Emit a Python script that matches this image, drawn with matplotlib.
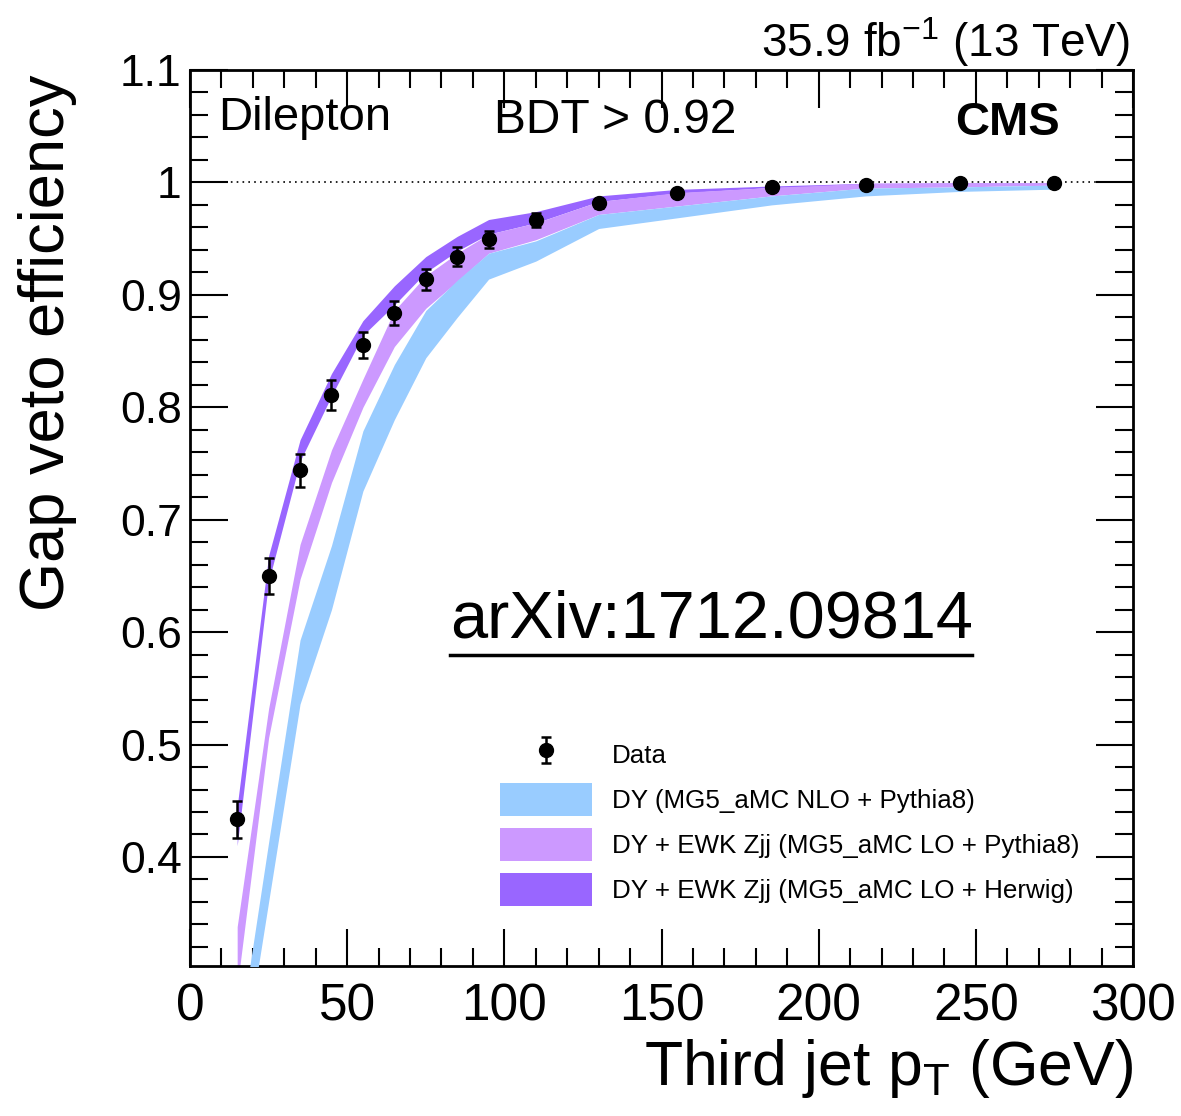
import numpy as np
import matplotlib
matplotlib.use("Agg")
import matplotlib.pyplot as plt
from matplotlib.patches import Patch
from matplotlib.ticker import MultipleLocator, FuncFormatter

plt.rcParams['font.family'] = ['Liberation Sans', 'DejaVu Sans']
plt.rcParams['mathtext.fontset'] = 'custom'
plt.rcParams['mathtext.rm'] = 'Liberation Sans'

# bin centres (GeV)
pt = [15, 25, 35, 45, 55, 65, 75, 85, 95, 110, 130, 155, 185, 215, 245, 275]

# data
data_eff = [0.4334, 0.650, 0.744, 0.8106, 0.8555, 0.8836, 0.9139, 0.9338,
            0.9495, 0.9666, 0.9813, 0.9902, 0.9958, 0.9973, 0.9997, 0.9997]
data_err = [0.0166, 0.016, 0.0146, 0.0134, 0.0117, 0.0105, 0.0095, 0.0085,
            0.0076, 0.0064, 0.004, 0.003, 0.002, 0.002, 0.0015, 0.0015]

# DY NLO + Pythia8 band
nlo_lo = [0.184, 0.360, 0.536, 0.620, 0.7255, 0.789, 0.844, 0.880,
          0.914, 0.930, 0.959, 0.9685, 0.980, 0.988, 0.992, 0.994]
nlo_hi = [0.229, 0.413, 0.593, 0.677, 0.779, 0.838, 0.886, 0.913,
          0.937, 0.948, 0.9715, 0.979, 0.988, 0.995, 0.996, 0.9976]

# DY + EWK Zjj LO + Pythia8 band
lo_py_lo = [0.284, 0.506, 0.647, 0.733, 0.800, 0.854, 0.888, 0.912,
            0.937, 0.949, 0.9715, 0.979, 0.988, 0.995, 0.996, 0.9976]
lo_py_hi = [0.338, 0.532, 0.678, 0.762, 0.825, 0.886, 0.917, 0.937,
            0.954, 0.964, 0.983, 0.991, 0.9955, 0.9993, 0.9997, 0.9997]

# DY + EWK Zjj LO + Herwig band
lo_hw_lo = [0.410, 0.645, 0.752, 0.810, 0.864, 0.891, 0.920, 0.939,
            0.954, 0.964, 0.983, 0.9905, 0.9955, 0.997, 0.998, 0.998]
lo_hw_hi = [0.445, 0.668, 0.771, 0.830, 0.877, 0.908, 0.934, 0.952,
            0.967, 0.974, 0.988, 0.9938, 0.9968, 0.9992, 0.9995, 0.9995]

c_nlo = '#99ccff'
c_py = '#cc99ff'
c_hw = '#9966ff'

fig = plt.figure(figsize=(11.81, 11.16), dpi=100)
ax = fig.add_axes([0.1609, 0.1344, 0.7985, 0.8029])

ax.fill_between(pt, lo_hw_lo, lo_hw_hi, color=c_hw, lw=0, zorder=1)
ax.fill_between(pt, lo_py_lo, lo_py_hi, color=c_py, lw=0, zorder=2)
ax.fill_between(pt, nlo_lo, nlo_hi, color=c_nlo, lw=0, zorder=3)

ax.axhline(1.0, color='black', ls=(0, (1, 2.5)), lw=1.2, zorder=4)

eb = ax.errorbar(pt, data_eff, yerr=data_err, fmt='o', color='black',
                 ms=10, elinewidth=1.8, capsize=3.5, capthick=1.8, zorder=5)

ax.set_xlim(0, 300)
ax.set_ylim(0.303, 1.1)

ax.xaxis.set_major_locator(MultipleLocator(50))
ax.xaxis.set_minor_locator(MultipleLocator(10))
ax.yaxis.set_major_locator(MultipleLocator(0.1))
ax.yaxis.set_minor_locator(MultipleLocator(0.02))
ax.yaxis.set_major_formatter(FuncFormatter(lambda v, p: '%g' % round(v, 2)))

ax.tick_params(which='both', direction='in', top=True, right=True, width=1.5)
ax.tick_params(which='major', length=27)
ax.tick_params(which='minor', length=13)
ax.tick_params(axis='x', labelsize=37, pad=12)
ax.tick_params(axis='y', labelsize=32, pad=6)
for s in ax.spines.values():
    s.set_linewidth(2)

# texts
ax.text(0.0297, 0.933, 'Dilepton', transform=ax.transAxes, fontsize=34,
        va='baseline', ha='left')
ax.text(0.3224, 0.9297, 'BDT > 0.92', transform=ax.transAxes, fontsize=34.5,
        va='baseline', ha='left')
ax.text(0.811, 0.9275, 'CMS', transform=ax.transAxes, fontsize=34,
        fontweight='bold', va='baseline', ha='left')
ax.text(0.2757, 0.367, 'arXiv:1712.09814', transform=ax.transAxes,
        fontsize=48, va='baseline', ha='left')
ax.plot([0.2757, 0.829], [0.347, 0.347], transform=ax.transAxes,
        color='black', lw=2.5, clip_on=False)

fig.text(0.9568, 0.9489, r'35.9 fb$^{\mathregular{-1}}$ (13 TeV)',
         fontsize=33, ha='right', va='baseline')
fig.text(0.04, 0.933, 'Gap veto efficiency', rotation=90, fontsize=45.5,
         ha='center', va='top')
fig.text(0.9594, 0.0278, r'Third jet p$_{\mathregular{T}}$ (GeV)',
         fontsize=45, ha='right', va='baseline')

handles = [eb,
           Patch(facecolor=c_nlo, edgecolor='none'),
           Patch(facecolor=c_py, edgecolor='none'),
           Patch(facecolor=c_hw, edgecolor='none')]
labels = ['Data',
          'DY (MG5_aMC NLO + Pythia8)',
          'DY + EWK Zjj (MG5_aMC LO + Pythia8)',
          'DY + EWK Zjj (MG5_aMC LO + Herwig)']
ax.legend(handles, labels, loc='upper left', bbox_to_anchor=(0.3287, 0.255),
          frameon=False, fontsize=18.7, handlelength=3.55, handleheight=1.6,
          labelspacing=0.45, handletextpad=0.75, borderpad=0, borderaxespad=0)

fig.savefig('out.png', dpi=100)
